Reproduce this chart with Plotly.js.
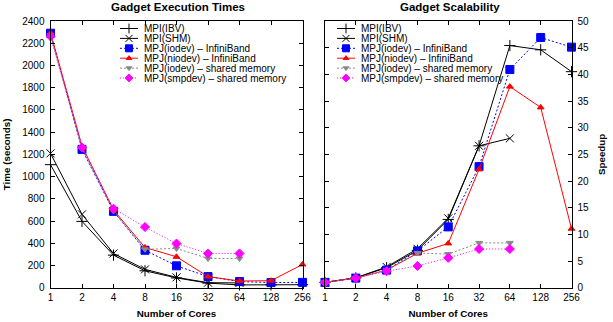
<!DOCTYPE html>
<html><head><meta charset="utf-8">
<script src="https://cdn.plot.ly/plotly-3.0.1.min.js"></script>
<style>html,body{margin:0;padding:0;overflow:hidden;background:#fff}</style>
</head><body><div id="chart" style="width:613px;height:322px"></div>
<script>
// ---- data ----
const cores = [1, 2, 4, 8, 16, 32, 64, 128, 256];
const coreLabels = ['1', '2', '4', '8', '16', '32', '64', '128', '256'];
const seriesNames = ['MPI(IBV)', 'MPI(SHM)', 'MPJ(iodev) – InfiniBand', 'MPJ(niodev) – InfiniBand', 'MPJ(iodev) – shared memory', 'MPJ(smpdev) – shared memory'];
const timeIBV = [1107, 597, 293, 152, 88, 41, 25, 25, 27];
const timeSHM = [1209, 660, 308, 165, 93, 45, 43];
const timeIodevIB = [2290, 1245, 687, 337, 197, 100, 55, 46, 48];
const timeNiodevIB = [2295, 1275, 700, 362, 278, 100, 60, 63, 209];
const timeIodevSHM = [2270, 1255, 690, 345, 353, 263, 263];
const timeSmpdevSHM = [2262, 1262, 711, 546, 397, 308, 308];
const speedIBV = [1, 1.85, 3.75, 7.0, 12.8, 26.6, 45.4, 44.6, 40.5];
const speedSHM = [1, 1.85, 3.9, 7.3, 13.0, 26.6, 28.0];
const speedIodevIB = [1, 1.8, 3.3, 6.9, 11.4, 22.7, 40.9, 46.9, 45.1];
const speedNiodevIB = [1, 1.8, 3.3, 6.45, 8.3, 22.2, 37.7, 33.8, 11.06];
const speedIodevSHM = [1, 1.8, 3.3, 6.5, 6.3, 8.4, 8.4];
const speedSmpdevSHM = [1, 1.8, 3.1, 4.07, 5.6, 7.25, 7.25];

const timeSeries = [timeIBV, timeSHM, timeIodevIB, timeNiodevIB, timeIodevSHM, timeSmpdevSHM];
const speedSeries = [speedIBV, speedSHM, speedIodevIB, speedNiodevIB, speedIodevSHM, speedSmpdevSHM];

// ---- styles ----
const styles = [
  {color: '#000000', dash: 'solid', symbol: 'cross-thin-open', size: 8, lw: 1},
  {color: '#000000', dash: 'solid', symbol: 'x-thin-open', size: 8, lw: 1},
  {color: '#0000ff', dash: '2px,2px', symbol: 'square', size: 8, lw: 1},
  {color: '#ff0000', dash: 'solid', symbol: 'triangle-up', size: 6, lw: 1},
  {color: '#888888', dash: '2px,2px', symbol: 'triangle-down', size: 6, lw: 1},
  {color: '#ff00ff', dash: '1px,2px', symbol: 'diamond', size: 7, lw: 1}
];

const W = 613, H = 322;
const FONT = 'Liberation Sans, Arial, Helvetica, sans-serif';
const traces = [];
function addSeries(data, xa, ya) {
  data.forEach((vals, i) => {
    const st = styles[i];
    traces.push({
      x: cores.slice(0, vals.length), y: vals, xaxis: xa, yaxis: ya,
      type: 'scatter', mode: 'lines+markers', name: seriesNames[i],
      cliponaxis: false, showlegend: false,
      line: {color: st.color, dash: st.dash, width: st.lw},
      marker: {symbol: st.symbol, size: st.size, color: st.color, line: {color: st.color, width: 1}}
    });
  });
}
addSeries(timeSeries, 'x', 'y');
addSeries(speedSeries, 'x2', 'y2');

// ---- custom compact legends (gnuplot style key) ----
const legends = [{lx0: 120, lx1: 138, tx: 143}, {lx0: 337, lx1: 355, tx: 360}];
const rowY0 = 28.5, rowDy = 9.9;
const shapes = [], annotations = [];
const px = v => v / W, py = v => 1 - v / H;
legends.forEach(lg => {
  seriesNames.forEach((nm, i) => {
    const st = styles[i];
    const yy = rowY0 + i * rowDy;
    shapes.push({type: 'line', xref: 'paper', yref: 'paper', x0: px(lg.lx0), x1: px(lg.lx1), y0: py(yy), y1: py(yy),
      line: {color: st.color, width: st.lw, dash: st.dash}});
    annotations.push({xref: 'paper', yref: 'paper', x: px(lg.tx), y: py(yy), xanchor: 'left', yanchor: 'middle',
      text: nm, showarrow: false, font: {family: FONT, size: 10, color: '#000'}, borderpad: 0});
    traces.push({x: [(lg.lx0 + lg.lx1) / 2], y: [yy], xaxis: 'x3', yaxis: 'y3', type: 'scatter', mode: 'markers',
      showlegend: false, hoverinfo: 'skip', cliponaxis: false,
      marker: {symbol: st.symbol, size: st.size - 1, color: st.color, line: {color: st.color, width: 1}}});
  });
});
annotations.push({xref: 'paper', yref: 'paper', x: px(178.4), y: py(6.5), xanchor: 'center', yanchor: 'middle',
  text: '<b>Gadget Execution Times</b>', showarrow: false, font: {family: FONT, size: 11.5, color: '#000'}});
annotations.push({xref: 'paper', yref: 'paper', x: px(449.7), y: py(6.5), xanchor: 'center', yanchor: 'middle',
  text: '<b>Gadget Scalability</b>', showarrow: false, font: {family: FONT, size: 11.5, color: '#000'}});

const yDom = [34.3 / H, 301 / H];
function xAxis(dom, anchor) {
  return {domain: dom, anchor: anchor, type: 'log', range: [0, Math.log10(256)],
    tickmode: 'array', tickvals: cores, ticktext: coreLabels,
    ticks: 'inside', ticklen: 4, tickcolor: '#000', showline: true, mirror: 'ticks',
    linecolor: '#000', linewidth: 1, showgrid: false, zeroline: false,
    tickfont: {family: FONT, size: 10, color: '#000'},
    title: {text: '<b>Number of Cores</b>', font: {family: FONT, size: 9.8, color: '#000'}, standoff: 8}};
}
const layout = {
  width: W, height: H, margin: {l: 0, r: 0, t: 0, b: 0},
  paper_bgcolor: '#fff', plot_bgcolor: 'rgba(0,0,0,0)', showlegend: false,
  font: {family: FONT, size: 10, color: '#000'},
  xaxis: xAxis([50.5 / W, 302.5 / W], 'y'),
  xaxis2: xAxis([325 / W, 571.5 / W], 'y2'),
  yaxis: {domain: yDom, anchor: 'x', range: [0, 2400], dtick: 200, tick0: 0,
    ticks: 'inside', ticklen: 4, tickcolor: '#000', showline: true, mirror: 'ticks',
    linecolor: '#000', linewidth: 1, showgrid: false, zeroline: false, ticklabelstandoff: 3,
    tickfont: {family: FONT, size: 10, color: '#000'},
    title: {text: '<b>Time (seconds)</b>', font: {family: FONT, size: 9.8, color: '#000'}, standoff: 9}},
  yaxis2: {domain: yDom, anchor: 'x2', side: 'right', range: [0, 50], dtick: 5, tick0: 0,
    ticks: 'inside', ticklen: 4, tickcolor: '#000', showline: true, mirror: 'ticks',
    linecolor: '#000', linewidth: 1, showgrid: false, zeroline: false, ticklabelstandoff: 3,
    tickfont: {family: FONT, size: 10, color: '#000'},
    title: {text: '<b>Speedup</b>', font: {family: FONT, size: 9.8, color: '#000'}, standoff: 10}},
  xaxis3: {domain: [0, 1], anchor: 'y3', range: [0, W], visible: false, fixedrange: true},
  yaxis3: {domain: [0, 1], anchor: 'x3', range: [H, 0], visible: false, fixedrange: true},
  shapes: shapes, annotations: annotations
};
Plotly.newPlot('chart', traces, layout, {displayModeBar: false, staticPlot: true});
</script></body></html>
